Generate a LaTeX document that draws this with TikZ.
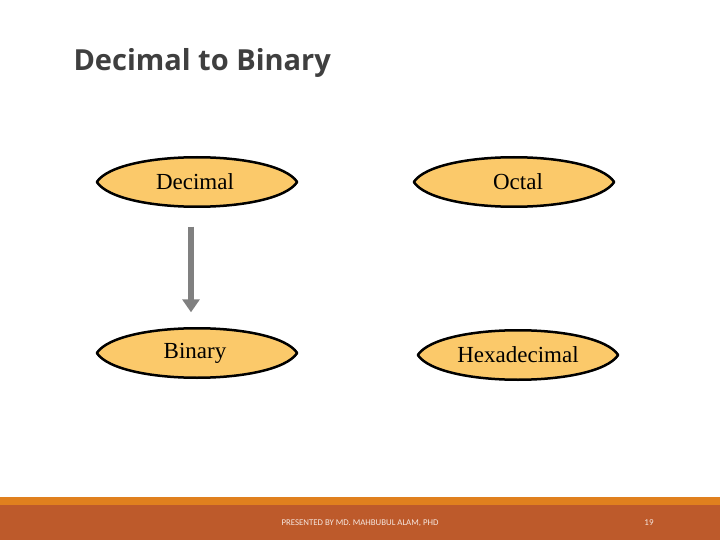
\documentclass[tikz,border=0pt]{standalone}
\usepackage{fontspec}
\setmainfont{Liberation Serif}
\newfontfamily\titlefont{Open Sans}
\newfontfamily\footfont{Carlito}
\usetikzlibrary{arrows.meta,calc,backgrounds}
\definecolor{ellfill}{HTML}{FBC96A}
\definecolor{titlegray}{HTML}{3F3F3F}
\definecolor{stripe}{HTML}{E0801E}
\definecolor{band}{HTML}{BD5A2B}
\definecolor{arrowgray}{HTML}{808080}
\tikzset{
  numbox/.style={rectangle, draw=none, minimum width=200pt, minimum height=49pt,
    inner sep=0pt, font=\fontsize{23}{26}\selectfont},
  lens/.style={draw=black, line width=2.5pt, fill=ellfill, line join=round},
  convarrow/.style={draw=arrowgray, line width=6pt,
    -{Triangle[width=17pt,length=13pt]}}
}
\begin{document}
\begin{tikzpicture}[x=1pt,y=-1pt]
\useasboundingbox (0,0) rectangle (720,540);
% nodes
\node[numbox] (dec) at (197,182) {\hspace*{-4pt}Decimal};
\node[numbox] (oct) at (514,182) {\hspace*{8pt}Octal};
\node[numbox] (bin) at (197,353) {\hspace*{-4pt}Binary};
\node[numbox] (hex) at (518,355) {Hexadecimal};
\begin{scope}[on background layer]
\fill[white] (0,0) rectangle (720,540);
\foreach \n in {dec,oct,bin,hex}{
  \path[lens] (\n.west) .. controls ($(\n.west)+(22,-33)$) and ($(\n.east)+(-22,-33)$) .. (\n.east)
     .. controls ($(\n.east)+(-22,33)$) and ($(\n.west)+(22,33)$) .. (\n.west) -- cycle;
}
\end{scope}
% footer
\fill[stripe] (0,497) rectangle (720,506);
\fill[band] (0,505) rectangle (720,540);
\node[font=\footfont\fontsize{8.8}{10}\selectfont, text=white!85!band] (foot) at (360,523) {PRESENTED BY MD. MAHBUBUL ALAM, PHD};
\node[font=\footfont\fontsize{9}{10}\selectfont, text=white!85!band] (page) at (649,523) {19};
% title
\node[anchor=west, font=\titlefont\bfseries\fontsize{29}{34}\selectfont, text=titlegray] (title) at (70,63) {Decimal to Binary};
% arrow
\draw[convarrow, shorten <=20pt, shorten >=16pt] ([xshift=-6pt]dec.south) -- ([xshift=-6pt]bin.north);
\end{tikzpicture}
\end{document}
